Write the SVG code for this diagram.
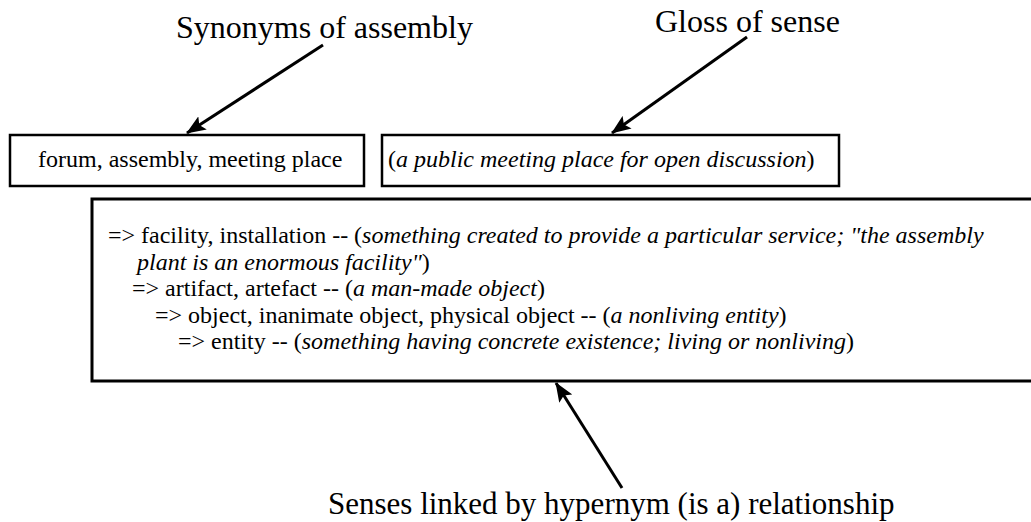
<svg xmlns="http://www.w3.org/2000/svg" width="1031" height="522" viewBox="0 0 1031 522">
  <style>
    .box { fill: #fff; stroke: #000; }
    .conn { stroke: #000; stroke-width: 3; fill: none; }
  </style>
  <defs>
    <!-- filled, slightly notched arrowhead shared by every connector -->
    <marker id="head" viewBox="0 0 10 8" refX="9.5" refY="4" markerWidth="6.5" markerHeight="5.2" orient="auto" markerUnits="strokeWidth">
      <path d="M0,0 L10,4 L0,8 L2,4 Z" fill="#000"/>
    </marker>
  </defs>
  <rect width="1031" height="522" fill="#fff"/>

  <g id="synonyms">
    <rect class="box" x="10" y="135" width="354" height="51" stroke-width="2.5"/>
    <text font-family="Liberation Serif" font-size="24" x="38" y="167">forum, assembly, meeting place</text>
  </g>

  <g id="gloss">
    <rect class="box" x="382" y="135" width="457" height="51" stroke-width="2.5"/>
    <text font-family="Liberation Serif" font-size="24" x="388" y="167">(<tspan font-style="italic">a public meeting place for open discussion</tspan>)</text>
  </g>

  <g id="hypernyms">
    <rect class="box" x="92" y="199" width="945" height="182" stroke-width="3"/>
    <text font-family="Liberation Serif" font-size="24" x="108" y="243">=&gt; facility, installation -- (<tspan font-style="italic">something created to provide a particular service; "the assembly</tspan></text>
    <text font-family="Liberation Serif" font-size="24" x="137" y="269.5"><tspan font-style="italic">plant is an enormous facility"</tspan>)</text>
    <text font-family="Liberation Serif" font-size="24" x="132" y="296">=&gt; artifact, artefact -- (<tspan font-style="italic">a man-made object</tspan>)</text>
    <text font-family="Liberation Serif" font-size="24" x="155" y="322.5">=&gt; object, inanimate object, physical object -- (<tspan font-style="italic">a nonliving entity</tspan>)</text>
    <text font-family="Liberation Serif" font-size="24" x="178" y="349">=&gt; entity -- (<tspan font-style="italic">something having concrete existence; living or nonliving</tspan>)</text>
  </g>

  <g id="labels">
    <text font-family="Liberation Serif" font-size="32" x="176" y="38">Synonyms of assembly</text>
    <text font-family="Liberation Serif" font-size="32" x="655" y="32">Gloss of sense</text>
    <text font-family="Liberation Serif" font-size="31" x="328" y="514">Senses linked by hypernym (is a) relationship</text>
  </g>

  <g id="connectors">
    <line class="conn" x1="323" y1="45" x2="187" y2="133" marker-end="url(#head)"/>
    <line class="conn" x1="747" y1="37" x2="612" y2="133" marker-end="url(#head)"/>
    <line class="conn" x1="622" y1="488" x2="556" y2="383" marker-end="url(#head)"/>
  </g>
</svg>
